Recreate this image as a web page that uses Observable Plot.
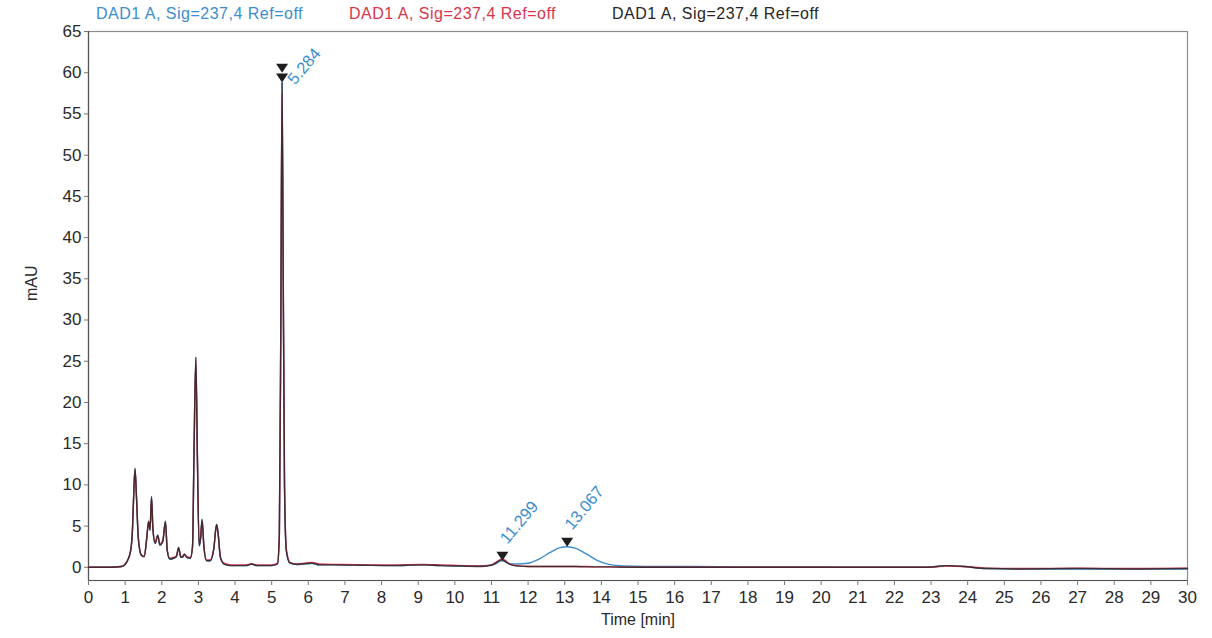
<!DOCTYPE html>
<html><head><meta charset="utf-8">
<script src="https://cdn.jsdelivr.net/npm/d3@7"></script>
<script src="https://cdn.jsdelivr.net/npm/@observablehq/plot@0.6"></script>
<style>
body{margin:0;background:#fff;font-family:"Liberation Sans",Arial,sans-serif}
#wrap{position:relative;width:1212px;height:638px;overflow:hidden}
#legend{position:absolute;top:5px;left:0;width:1212px;height:22px;font-size:16px;letter-spacing:0.5px}
#legend span{position:absolute;top:0;white-space:nowrap}
</style></head><body>
<div id="wrap"><div id="legend"></div><div id="chart"></div></div>
<script>
// ---- data ----
const seriesNames = ["DAD1 A, Sig=237,4 Ref=off", "DAD1 A, Sig=237,4 Ref=off", "DAD1 A, Sig=237,4 Ref=off"];
const seriesColors = ["#3b8dcf", "#d7364c", "#262626"];
const legendLefts = [96, 349, 612];

const times = [
  0, 0.6, 0.9, 1.05, 1.15, 1.2, 1.24, 1.27, 1.31, 1.36,
  1.44, 1.52, 1.59, 1.64, 1.68, 1.72, 1.76, 1.82, 1.89, 1.95,
  2.03, 2.1, 2.15, 2.22, 2.32, 2.4, 2.46, 2.52, 2.58, 2.62,
  2.68, 2.78, 2.84, 2.88, 2.93, 2.97, 3.02, 3.06, 3.1, 3.15,
  3.22, 3.32, 3.42, 3.47, 3.5, 3.54, 3.6, 3.7, 3.9, 4.3,
  4.45, 4.6, 5.0, 5.16, 5.21, 5.25, 5.284, 5.31, 5.35, 5.4,
  5.5, 5.7, 6.1, 6.3, 6.8, 7.5, 8.3, 9.1, 9.6, 10.2,
  10.7, 11.0, 11.15, 11.23, 11.299, 11.38, 11.5, 11.7, 12.0, 12.3,
  12.6, 12.85, 13.067, 13.3, 13.6, 13.9, 14.2, 14.6, 15.2, 16.5,
  18, 20, 22, 22.9, 23.4, 23.9, 24.5, 25.5, 27, 28.5,
  30
];
const blackValues = [
  0, 0, 0.1, 0.7, 2.0, 4.5, 9.5, 12.0, 8.5, 3.5,
  1.5, 1.3, 3.5, 5.6, 4.5, 8.6, 4.5, 2.9, 3.9, 2.7,
  3.2, 5.6, 2.0, 1.0, 1.1, 1.3, 2.4, 1.2, 1.3, 1.6,
  1.2, 1.1, 2.5, 14.0, 25.5, 14.0, 2.6, 3.5, 5.8, 2.5,
  0.8, 0.8, 2.2, 4.5, 5.2, 4.0, 1.2, 0.4, 0.2, 0.2,
  0.4, 0.2, 0.2, 0.4, 4.0, 30.0, 58.8, 40.0, 10.0, 2.0,
  0.5, 0.35, 0.5, 0.3, 0.3, 0.25, 0.2, 0.3, 0.2, 0.15,
  0.1, 0.25, 0.6, 0.85, 0.9, 0.7, 0.35, 0.15, 0.1, 0.1,
  0.1, 0.1, 0.1, 0.1, 0.05, 0.05, 0.05, 0, 0, 0,
  0, 0, 0, 0, 0.2, 0.1, -0.15, -0.2, -0.15, -0.2,
  -0.15
];
const redValues = [
  0, 0, 0.1, 0.7, 2.0, 4.6, 9.6, 11.8, 8.6, 3.6,
  1.5, 1.3, 3.6, 5.5, 4.6, 8.4, 4.6, 3.0, 3.8, 2.8,
  3.3, 5.4, 2.1, 1.1, 1.2, 1.4, 2.3, 1.3, 1.4, 1.6,
  1.3, 1.2, 2.6, 13.8, 25.2, 14.2, 2.8, 3.6, 5.6, 2.6,
  0.9, 0.9, 2.3, 4.4, 5.1, 4.1, 1.3, 0.5, 0.3, 0.3,
  0.4, 0.3, 0.3, 0.5, 4.0, 29.0, 57.5, 41.0, 11.0, 2.2,
  0.6, 0.4, 0.6, 0.4, 0.35, 0.3, 0.3, 0.35, 0.3, 0.2,
  0.15, 0.3, 0.7, 0.9, 1.0, 0.8, 0.4, 0.2, 0.1, 0.1,
  0.1, 0.1, 0.1, 0.1, 0.1, 0.05, 0.05, 0.05, 0, 0,
  0, 0, 0, 0, 0.15, 0.1, -0.1, -0.15, -0.1, -0.15,
  -0.1
];
const blueValues = [
  0, 0, 0.1, 0.7, 2.0, 4.5, 9.5, 12.0, 8.5, 3.5,
  1.5, 1.3, 3.5, 5.6, 4.5, 8.6, 4.5, 2.9, 3.9, 2.7,
  3.2, 5.6, 2.0, 1.0, 1.1, 1.3, 2.4, 1.2, 1.3, 1.6,
  1.2, 1.1, 2.5, 14.0, 25.5, 14.0, 2.6, 3.5, 5.8, 2.5,
  0.8, 0.8, 2.2, 4.5, 5.2, 4.0, 1.2, 0.4, 0.2, 0.2,
  0.4, 0.2, 0.2, 0.4, 4.0, 30.0, 58.8, 40.0, 10.0, 2.0,
  0.5, 0.35, 0.5, 0.3, 0.3, 0.25, 0.2, 0.3, 0.2, 0.15,
  0.2, 0.3, 0.5, 0.75, 0.8, 0.65, 0.45, 0.4, 0.5, 1.0,
  1.8, 2.35, 2.5, 2.3, 1.6, 0.8, 0.35, 0.15, 0.1, 0.1,
  0.05, 0.05, 0, 0, 0.2, 0.1, -0.15, -0.2, -0.2, -0.2,
  -0.2
];

const markerTimes = [5.284, 5.284, 11.299, 13.067];
const markerHeights = [58.8, 60.0, 0.8, 2.5];
const mainLabel = {time: 5.284, height: 58.8, text: "5.284"};
const peakLabels = ["11.299", "13.067"];
const peakLabelTimes = [11.299, 13.067];
const peakLabelHeights = [0.8, 2.5];

const xTicks = [0,1,2,3,4,5,6,7,8,9,10,11,12,13,14,15,16,17,18,19,20,21,22,23,24,25,26,27,28,29,30];
const yTicks = [0,5,10,15,20,25,30,35,40,45,50,55,60,65];
const xDomain = [0, 30];
const yDomain = [-1.6, 65];
const xLabel = "Time [min]";
const yLabel = "mAU";

// ---- build ----
const legend = document.getElementById("legend");
seriesNames.forEach((n, i) => {
  const s = document.createElement("span");
  s.textContent = n;
  s.style.left = legendLefts[i] + "px";
  s.style.color = seriesColors[i];
  legend.appendChild(s);
});

const trace = vals => times.map((t, i) => ({t, v: vals[i]}));
const blueRows = trace(blueValues), redRows = trace(redValues), blackRows = trace(blackValues);
const markers = markerTimes.map((t, i) => ({t, v: markerHeights[i]}));
const labels = peakLabels.map((s, i) => ({t: peakLabelTimes[i], v: peakLabelHeights[i], s}));

const downTriangle = {
  draw(context) {
    context.moveTo(0, 0);
    context.lineTo(-6, -9);
    context.lineTo(6, -9);
    context.closePath();
  }
};

const chart = Plot.plot({
  width: 1212, height: 638,
  marginTop: 31, marginLeft: 88, marginRight: 25, marginBottom: 58,
  style: {fontFamily: "'Liberation Sans', Arial, sans-serif", fontSize: "17px", color: "#2a2a2a", background: "white", overflow: "visible"},
  x: {domain: xDomain},
  y: {domain: yDomain},
  marks: [
    Plot.frame({stroke: "#8c8c8c", strokeWidth: 1.2}),
    Plot.ruleX([xDomain[0]], {stroke: "#555", strokeWidth: 1.2}),
    Plot.ruleY([yDomain[0]], {stroke: "#555", strokeWidth: 1.2}),
    Plot.axisX({ticks: xTicks, tickSize: 5, tickPadding: 5, fontSize: 17, label: null, stroke: "#777"}),
    Plot.axisY({ticks: yTicks, tickSize: 4, tickPadding: 3, fontSize: 17, label: null, stroke: "#777"}),
    Plot.text([xLabel], {frameAnchor: "bottom", dy: 44, fontSize: 16, fill: "#2a2a2a"}),
    Plot.text([yLabel], {frameAnchor: "left", dx: -57, dy: -5, rotate: -90, fontSize: 16, fill: "#2a2a2a"}),
    Plot.line(blueRows, {x: "t", y: "v", stroke: seriesColors[0], strokeWidth: 1.4, curve: "monotone-x"}),
    Plot.line(redRows, {x: "t", y: "v", stroke: seriesColors[1], strokeWidth: 1.4, curve: "monotone-x"}),
    Plot.line(blackRows, {x: "t", y: "v", stroke: seriesColors[2], strokeWidth: 1.4, strokeOpacity: 0.8, curve: "monotone-x"}),
    Plot.dot(markers, {x: "t", y: "v", symbol: downTriangle, fill: "#1e1e1e", stroke: "none"}),
    Plot.text([mainLabel], {x: "time", y: "height", text: "text", rotate: -50, textAnchor: "start", lineAnchor: "bottom", dx: 13, dy: 3, fontSize: 16.5, fill: seriesColors[0]}),
    Plot.text(labels, {x: "t", y: "v", text: "s", rotate: -50, textAnchor: "start", lineAnchor: "bottom", dx: 5, dy: -16, fontSize: 16.5, fill: seriesColors[0]})
  ]
});
document.getElementById("chart").appendChild(chart);
</script>
</body></html>
